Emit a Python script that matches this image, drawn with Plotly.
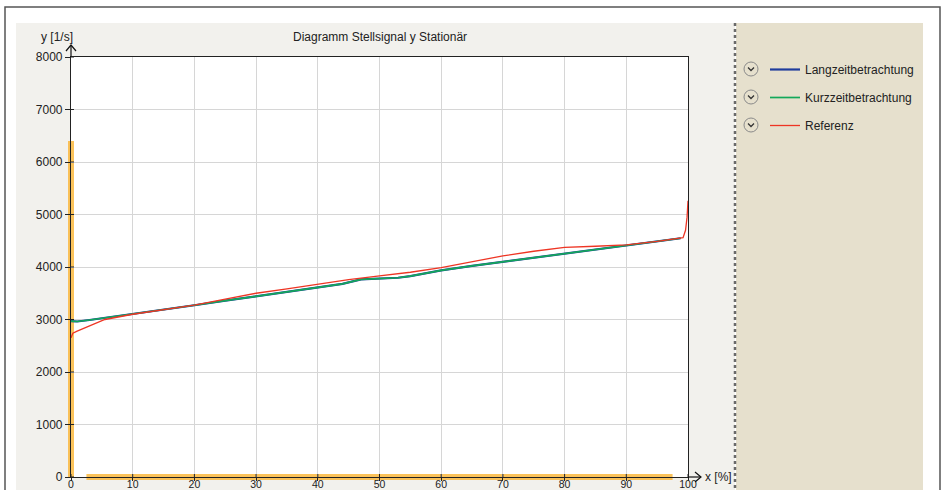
import plotly.graph_objects as go

# ---- data ----
x_lang = [0, 1, 3, 5.5, 10, 15, 20, 25, 30, 35, 40, 44, 47, 50, 53, 55, 60, 65, 70, 75, 80, 85, 90, 95, 98.8]
y_lang = [2970, 2962, 2990, 3030, 3100, 3185, 3272, 3358, 3445, 3525, 3605, 3680, 3765, 3778, 3795, 3825, 3935, 4020, 4100, 4180, 4260, 4340, 4420, 4490, 4548]

x_kurz = x_lang
y_kurz = y_lang

x_ref = [0, 0.3, 1, 3, 5.5, 10, 15, 20, 25, 30, 35, 40, 45, 50, 55, 60, 65, 70, 75, 80, 85, 90, 95, 99.2, 99.6, 99.85, 100]
y_ref = [2650, 2740, 2780, 2880, 3000, 3100, 3185, 3275, 3390, 3500, 3585, 3670, 3760, 3830, 3900, 3990, 4100, 4210, 4300, 4375, 4395, 4420, 4490, 4560, 4700, 4950, 5260]

x_ticks = [0, 10, 20, 30, 40, 50, 60, 70, 80, 90, 100]
y_ticks = [0, 1000, 2000, 3000, 4000, 5000, 6000, 7000, 8000]

series_names = ["Langzeitbetrachtung", "Kurzzeitbetrachtung", "Referenz"]
series_colors = ["#1f3c9c", "#13a85a", "#ee3524"]

title_text = "Diagramm Stellsignal y Stationär"
y_label = "y [1/s]"
x_label = "x [%]"

W, H = 943, 490
PL, PR, PT, PB = 71, 688, 57, 477
FONT = "Liberation Sans"


def px(xp):
    return (xp - PL) / (PR - PL)


def py(yp):
    return (PB - yp) / (PB - PT)


fig = go.Figure()
fig.add_trace(go.Scatter(x=x_lang, y=y_lang, name=series_names[0], mode="lines",
                         line=dict(color=series_colors[0], width=2.2),
                         legendgroup="a"))
fig.add_trace(go.Scatter(x=x_kurz, y=y_kurz, name=series_names[1], mode="lines",
                         line=dict(color=series_colors[1], width=1.7),
                         legendgroup="b"))
fig.add_trace(go.Scatter(x=x_ref, y=y_ref, name=series_names[2], mode="lines",
                         line=dict(color=series_colors[2], width=1.3),
                         legendgroup="c"))

shapes = []
# outer frame
shapes.append(dict(type="rect", xref="paper", yref="paper", x0=px(5), x1=px(940), y0=py(500), y1=py(7),
                   line=dict(color="#555555", width=1.5), fillcolor="white", layer="below"))
# grey panel
shapes.append(dict(type="rect", xref="paper", yref="paper", x0=px(16), x1=px(735), y0=py(500), y1=py(23),
                   line=dict(width=0), fillcolor="#f2f1ed", layer="below"))
# beige legend panel
shapes.append(dict(type="rect", xref="paper", yref="paper", x0=px(736), x1=px(923), y0=py(500), y1=py(23),
                   line=dict(width=0), fillcolor="#e6e0cd", layer="below"))
# separator
shapes.append(dict(type="line", xref="paper", yref="paper", x0=px(735), x1=px(735), y0=py(500), y1=py(23),
                   line=dict(color="#6a6a6a", width=2.5, dash="dot"), layer="below"))
# plot area white
shapes.append(dict(type="rect", xref="paper", yref="paper", x0=0, x1=1, y0=0, y1=1,
                   line=dict(width=0), fillcolor="white", layer="below"))
# orange highlight bands
shapes.append(dict(type="line", xref="paper", yref="paper", x0=0, x1=0, y0=0, y1=6400 / 8000,
                   line=dict(color="rgba(250,180,50,0.8)", width=6), layer="below"))
shapes.append(dict(type="line", xref="paper", yref="paper", x0=0.025, x1=0.975, y0=0, y1=0,
                   line=dict(color="rgba(250,180,50,0.8)", width=6), layer="below"))
# axis arrows
ax_line = dict(color="#111111", width=1.2)
shapes.append(dict(type="line", xref="paper", yref="paper", x0=px(688), x1=px(701), y0=py(477), y1=py(477), line=ax_line))
shapes.append(dict(type="path", xref="paper", yref="paper",
                   path=f"M{px(695)},{py(472)} L{px(701)},{py(477)} L{px(695)},{py(482)}", line=ax_line))
shapes.append(dict(type="line", xref="paper", yref="paper", x0=px(71), x1=px(71), y0=py(57), y1=py(45), line=ax_line))
shapes.append(dict(type="path", xref="paper", yref="paper",
                   path=f"M{px(66)},{py(51)} L{px(71)},{py(45)} L{px(76)},{py(51)}", line=ax_line))
# small tick stubs on the inner side of the axes (ticks cross the axis lines)
for v in y_ticks:
    shapes.append(dict(type="line", xref="paper", yref="paper", x0=px(71), x1=px(74),
                       y0=v / 8000, y1=v / 8000, line=dict(color="#222222", width=1)))
for v in x_ticks:
    shapes.append(dict(type="line", xref="paper", yref="paper", x0=v / 100, x1=v / 100,
                       y0=py(477), y1=py(474), line=dict(color="#222222", width=1)))
# legend chevron icons
for k in range(3):
    cy = 69 + 28 * k
    shapes.append(dict(type="circle", xref="paper", yref="paper",
                       x0=px(751 - 7), x1=px(751 + 7), y0=py(cy + 7), y1=py(cy - 7),
                       line=dict(color="#8a8a8a", width=1), fillcolor="rgba(0,0,0,0)"))
    shapes.append(dict(type="path", xref="paper", yref="paper",
                       path=f"M{px(748)},{py(cy - 1.5)} L{px(751)},{py(cy + 1.5)} L{px(754)},{py(cy - 1.5)}",
                       line=dict(color="#333333", width=1.3)))

annotations = [
    dict(text=y_label, xref="paper", yref="paper", x=px(57), y=py(37), showarrow=False,
         font=dict(family=FONT, size=12, color="#222222"), xanchor="center", yanchor="middle"),
    dict(text=x_label, xref="paper", yref="paper", x=px(703), y=py(477), showarrow=False,
         font=dict(family=FONT, size=12, color="#222222"), xanchor="left", yanchor="middle"),
    dict(text=title_text, xref="paper", yref="paper", x=0.5, y=py(37), showarrow=False,
         font=dict(family=FONT, size=12, color="#222222"), xanchor="center", yanchor="middle"),
]

fig.update_layout(
    width=W, height=H,
    margin=dict(l=PL, r=W - PR, t=PT, b=H - PB, pad=0, autoexpand=False),
    paper_bgcolor="white",
    plot_bgcolor="rgba(0,0,0,0)",
    font=dict(family=FONT, size=12, color="#222222"),
    shapes=shapes,
    annotations=annotations,
    showlegend=True,
    legend=dict(x=px(765), y=py(55), xanchor="left", yanchor="top", xref="paper", yref="paper",
                bgcolor="rgba(0,0,0,0)", font=dict(family=FONT, size=12, color="#222222"),
                tracegroupgap=9, itemclick=False, itemdoubleclick=False),
    xaxis=dict(range=[0, 100], tickvals=x_ticks, ticktext=[str(v) for v in x_ticks], automargin=False,
               showgrid=True, gridcolor="#d6d6d6", gridwidth=1, zeroline=False,
               showline=True, linecolor="#222222", linewidth=1.2, mirror=True,
               ticks="outside", ticklen=3, tickcolor="#222222", ticklabelstandoff=-6,
               tickfont=dict(size=10.5, color="#222222")),
    yaxis=dict(range=[0, 8000], tickvals=y_ticks, ticktext=[str(v) for v in y_ticks], automargin=False,
               showgrid=True, gridcolor="#d6d6d6", gridwidth=1, zeroline=False,
               showline=True, linecolor="#222222", linewidth=1.2, mirror=True,
               ticks="outside", ticklen=5, tickcolor="#222222", tickfont=dict(size=12, color="#222222")),
)

fig.write_html("out.html", post_script="document.body.style.margin='0';",
               config={"displayModeBar": False})
